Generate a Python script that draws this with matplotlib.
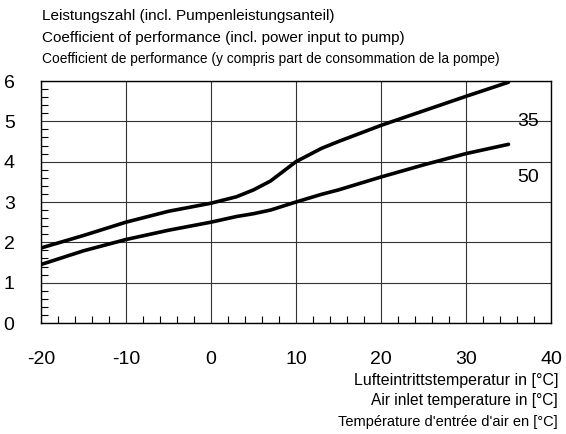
import numpy as np
import matplotlib.pyplot as plt
from matplotlib.ticker import MultipleLocator, FuncFormatter

plt.rcParams['font.family'] = ['Liberation Sans', 'DejaVu Sans']

# air inlet temperature [°C] and COP for flow temperatures 35 / 50 °C
temp_35 = [-20, -15, -10, -5, 0, 3, 5, 7, 10, 13, 15, 20, 25, 30, 35]
cop_35 = [1.86, 2.17, 2.50, 2.77, 2.97, 3.13, 3.30, 3.52, 4.00, 4.33, 4.50, 4.90, 5.26, 5.62, 5.97]
temp_50 = [-20, -15, -10, -5, 0, 3, 5, 7, 10, 13, 15, 20, 25, 30, 35]
cop_50 = [1.45, 1.79, 2.07, 2.30, 2.50, 2.64, 2.71, 2.80, 3.00, 3.19, 3.30, 3.62, 3.92, 4.20, 4.43]

fig = plt.figure(figsize=(5.66, 4.34), dpi=100)
ax = fig.add_axes([41/566, 1 - 323/434, 510/566, 242/434])

ax.plot(temp_35, cop_35, color='black', lw=2.6, solid_capstyle='round')
ax.plot(temp_50, cop_50, color='black', lw=2.6, solid_capstyle='round')
ax.text(36, 5.0, '35', fontsize=14, ha='left', va='center')
ax.text(36, 3.6, '50', fontsize=14, ha='left', va='center')

ax.set_xlim(-20, 40)
ax.set_ylim(0, 6)
ax.xaxis.set_major_locator(MultipleLocator(10))
ax.xaxis.set_minor_locator(MultipleLocator(2))
ax.yaxis.set_major_locator(MultipleLocator(1))
ax.yaxis.set_minor_locator(MultipleLocator(0.2))
ax.xaxis.set_major_formatter(FuncFormatter(lambda v, p: '%d' % v))
ax.grid(True, which='major', color='#333333', lw=0.8)
ax.tick_params(which='both', direction='in', top=False, right=False, labelsize=14)
ax.tick_params(which='major', length=0)
ax.tick_params(axis='x', which='major', pad=20)
ax.tick_params(axis='y', which='major', pad=19)
ax.tick_params(which='minor', length=5, width=0.8)
for s in ax.spines.values():
    s.set_linewidth(1.0)

fig.text(42/566, 1 - 16/434, 'Leistungszahl (incl. Pumpenleistungsanteil)', fontsize=11, va='center')
fig.text(42/566, 1 - 38/434, 'Coefficient of performance (incl. power input to pump)', fontsize=11, va='center')
fig.text(42/566, 1 - 59/434, 'Coefficient de performance (y compris part de consommation de la pompe)',
         fontsize=9.9, va='center')

fig.text(558/566, 1 - 380/434, 'Lufteintrittstemperatur in [°C]', fontsize=11.5, ha='right', va='center')
fig.text(558/566, 1 - 401/434, 'Air inlet temperature in [°C]', fontsize=11.2, ha='right', va='center')
fig.text(558/566, 1 - 422/434, "Température d'entrée d'air en [°C]", fontsize=10.5, ha='right', va='center')

fig.savefig('out.png', dpi=100)
